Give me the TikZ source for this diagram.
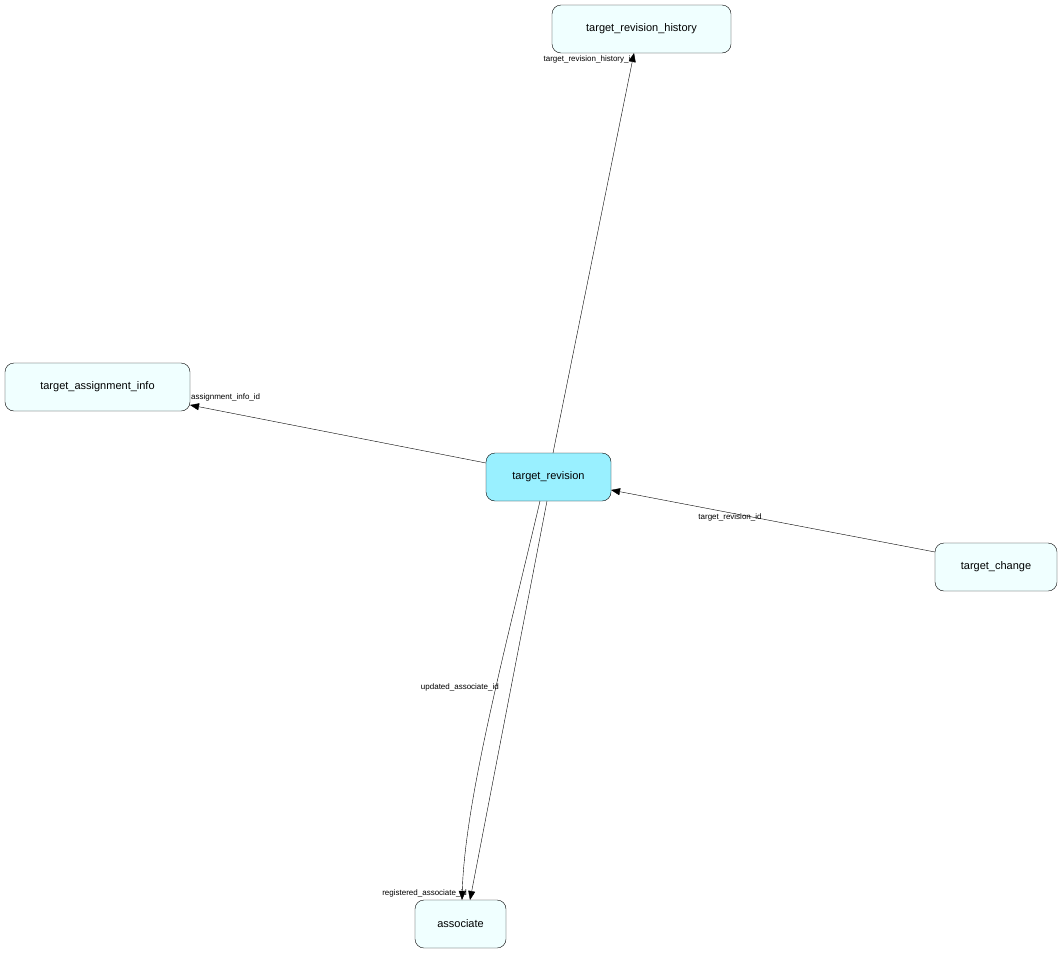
\documentclass[tikz,border=0pt]{standalone}
\usepackage{fontspec}
\setmainfont{Liberation Sans}
\usetikzlibrary{arrows.meta}
\definecolor{nfill}{HTML}{F0FFFF}
\definecolor{cfill}{HTML}{99F0FF}
\begin{document}
\begin{tikzpicture}[x=1pt,y=-1pt,
  tbl/.style={draw, rounded corners=9pt, fill=nfill, font=\fontsize{11}{13}\selectfont, inner sep=0pt},
  rel/.style={draw, -{Triangle[length=9pt,width=7pt]}},
  lbl/.style={font=\fontsize{8}{10}\selectfont, inner sep=1pt}]
\useasboundingbox (0,0) rectangle (1063,956);
\node[tbl, minimum width=179pt, minimum height=48pt] (trh) at (641.5,29) {target\_revision\_history};
\node[tbl, minimum width=185pt, minimum height=48pt] (tai) at (97.5,387) {target\_assignment\_info};
\node[tbl, fill=cfill, minimum width=125pt, minimum height=48pt] (tr) at (548.5,477) {target\_revision};
\node[tbl, minimum width=122pt, minimum height=48pt] (tc) at (996,567) {target\_change};
\node[tbl, minimum width=91pt, minimum height=48pt] (as) at (460.5,924) {associate};
\coordinate (a1) at (553,453); \coordinate (b1) at (634,53);
\draw[rel] (a1) -- (b1);
\coordinate (a2) at (486,463); \coordinate (b2) at (190,405);
\draw[rel] (a2) -- (b2);
\coordinate (a3) at (935,552); \coordinate (b3) at (611,490);
\draw[rel] (a3) -- (b3);
\coordinate (a4) at (540,501); \coordinate (b4) at (462,900);
\draw[rel] (a4) .. controls (505,650) and (465,800) .. (b4);
\coordinate (a5) at (547,501); \coordinate (b5) at (470,900);
\draw[rel] (a5) -- (b5);
\node[lbl, anchor=east] (l1) at (636,59) {target\_revision\_history\_id};
\node[lbl, anchor=west] (l2) at (190,397) {assignment\_info\_id};
\node[lbl] (l3) at (730,517) {target\_revision\_id};
\node[lbl, anchor=east] (l4) at (500,687) {updated\_associate\_id};
\node[lbl, anchor=east] (l5) at (468,893) {registered\_associate\_id};
\end{tikzpicture}
\end{document}
